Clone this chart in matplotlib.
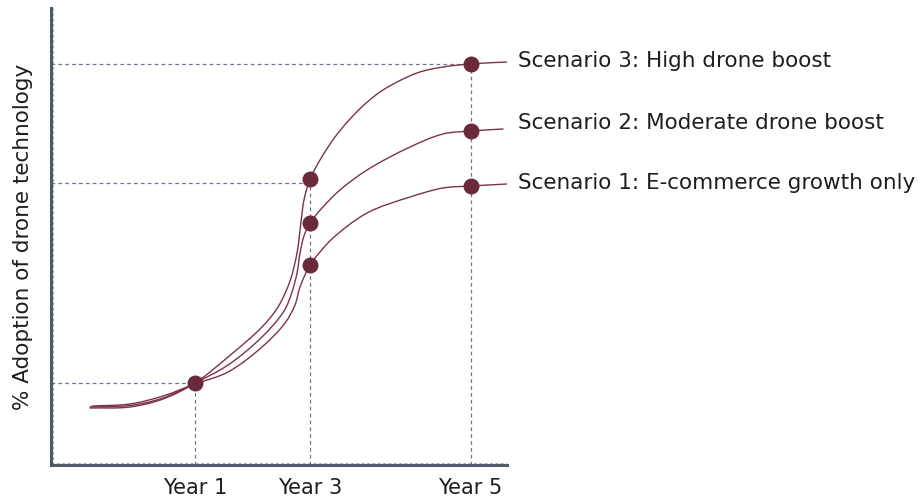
import matplotlib
matplotlib.use("Agg")
import matplotlib.pyplot as plt
import numpy as np
from matplotlib.path import Path
from matplotlib.patches import PathPatch

plt.rcParams['font.family'] = ['DejaVu Sans']

# ---- data (x: position along time axis 0-100, y: % adoption 0-100) ----
s3_x = [8.55, 17.32, 24.56, 31.58, 38.82, 46.27, 49.78, 52.41, 53.95, 54.82, 55.48, 56.80,
        58.99, 62.28, 65.57, 68.86, 72.81, 80.26, 85.96, 91.89, 100.0]
s3_y = [12.47, 12.69, 14.44, 17.94, 23.63, 30.20, 34.57, 40.26, 46.39, 53.17, 57.99, 62.58,
        66.74, 71.77, 75.71, 78.99, 82.06, 85.78, 87.09, 87.75, 88.18]

s2_x = [8.55, 17.32, 24.56, 31.58, 38.82, 46.27, 51.10, 52.85, 53.95, 54.61, 55.48, 56.80,
        59.43, 63.38, 69.30, 78.73, 85.96, 92.11, 99.12]
s2_y = [12.69, 13.02, 14.66, 17.94, 21.88, 28.01, 33.70, 37.86, 42.01, 46.39, 50.11, 52.95,
        56.24, 60.18, 64.55, 69.58, 72.43, 73.09, 73.52]

s1_x = [8.99, 17.32, 24.56, 31.58, 38.82, 46.27, 51.32, 53.51, 54.61, 56.80,
        58.99, 61.84, 69.30, 78.73, 85.96, 92.11, 100.0]
s1_y = [12.91, 13.35, 15.10, 17.72, 20.35, 25.82, 31.07, 35.01, 38.95, 43.76,
        46.61, 49.67, 55.14, 58.64, 60.61, 61.05, 61.49]

year_labels = ["Year 1", "Year 3", "Year 5"]
year_x = [31.6, 56.8, 92.0]

dot_x = [31.6, 56.8, 56.8, 56.8, 92.0, 92.0, 92.0]
dot_y = [17.9, 62.6, 53.0, 43.8, 87.7, 73.1, 61.1]

scenario_labels = ["Scenario 3: High drone boost",
                   "Scenario 2: Moderate drone boost",
                   "Scenario 1: E-commerce growth only"]
scenario_label_y = [88.4, 74.8, 61.7]

guide_y = [17.9, 61.7, 87.7]   # horizontal dashed guides
guide_x_end = [31.6, 56.8, 92.0]
guide_v_top = [17.9, 62.6, 87.7]

LINE = "#7a3347"
DOT = "#6b2a3c"
GUIDE = "#6b7890"
SPINE = "#4f5a6b"
TEXT = "#1e1e1e"

fig = plt.figure(figsize=(9.22, 4.98), dpi=100)
ax = fig.add_axes([51/922, 33/498, 456/922, 457/498])
ax.set_xlim(0, 100)
ax.set_ylim(0, 100)


def smooth_path(xs, ys, alpha=0.5):
    """Centripetal Catmull-Rom spline through the points, drawn as cubic Beziers."""
    P = np.column_stack([xs, ys]).astype(float)
    P = np.vstack([2 * P[0] - P[1], P, 2 * P[-1] - P[-2]])
    verts = [tuple(P[1])]
    codes = [Path.MOVETO]
    for i in range(1, len(P) - 2):
        p0, p1, p2, p3 = P[i - 1], P[i], P[i + 1], P[i + 2]
        d1 = np.linalg.norm(p1 - p0) ** alpha
        d2 = np.linalg.norm(p2 - p1) ** alpha
        d3 = np.linalg.norm(p3 - p2) ** alpha
        b1 = (d1**2 * p2 - d2**2 * p0 + (2 * d1**2 + 3 * d1 * d2 + d2**2) * p1) / (3 * d1 * (d1 + d2))
        b2 = (d3**2 * p1 - d2**2 * p3 + (2 * d3**2 + 3 * d3 * d2 + d2**2) * p2) / (3 * d3 * (d3 + d2))
        verts += [tuple(b1), tuple(b2), tuple(p2)]
        codes += [Path.CURVE4] * 3
    return Path(verts, codes)


dash = (0, (3, 2.5))
for gy, gx in zip(guide_y, guide_x_end):
    ax.plot([0, gx], [gy, gy], ls=dash, color=GUIDE, lw=0.9, zorder=1)
for gx, gy in zip(year_x, guide_v_top):
    ax.plot([gx, gx], [0, gy], ls=dash, color=GUIDE, lw=0.9, zorder=1)
# faint dashed lines along inner edges
ax.plot([0.5, 0.5], [0, 100], ls=dash, color=GUIDE, lw=0.7, alpha=0.6, zorder=1)
ax.plot([0, 100], [0.5, 0.5], ls=dash, color=GUIDE, lw=0.7, alpha=0.6, zorder=1)

for xs, ys in [(s3_x, s3_y), (s2_x, s2_y), (s1_x, s1_y)]:
    ax.add_patch(PathPatch(smooth_path(xs, ys), facecolor="none", edgecolor=LINE,
                           lw=1.0, zorder=2, capstyle="round"))

ax.plot(dot_x, dot_y, 'o', ms=11.5, color=DOT, mec="none", zorder=3, clip_on=False)

for lab, ly in zip(scenario_labels, scenario_label_y):
    ax.text(102.4, ly, lab, fontsize=15.5, color=TEXT, va="center", ha="left", clip_on=False)

ax.set_xticks(year_x)
ax.set_xticklabels(year_labels, fontsize=15, color=TEXT)
ax.set_yticks([])
ax.tick_params(axis='x', length=0, pad=9)
ax.set_ylabel("% Adoption of drone technology", fontsize=15.5, color=TEXT, labelpad=13)

for s in ["top", "right"]:
    ax.spines[s].set_visible(False)
for s in ["left", "bottom"]:
    ax.spines[s].set_color(SPINE)
    ax.spines[s].set_linewidth(2.2)

fig.savefig("out.png", dpi=100)
